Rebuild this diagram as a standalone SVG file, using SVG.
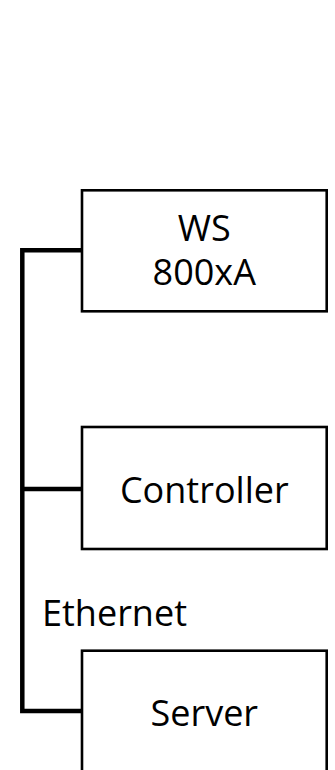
<svg xmlns="http://www.w3.org/2000/svg" width="335" height="770" viewBox="0 0 335 770">
<style>
.box{fill:#fff;stroke:#000;stroke-width:2.6}
.lbl{font-family:"Open Sans","DejaVu Sans",sans-serif;font-size:36px;fill:#000}
.c{text-anchor:middle}
.wire{fill:none;stroke:#000;stroke-width:4.5}
</style>
<rect width="335" height="770" fill="#fff"/>
<g id="connectors">
<path class="wire" d="M81 250.3 H22.3 V711 H81"/>
<path class="wire" d="M22.3 489 H81"/>
</g>
<g id="ws">
<rect class="box" x="82" y="190.3" width="244.7" height="121"/>
<text class="lbl c" x="204.3" y="241">WS</text>
<text class="lbl c" x="204.3" y="285">800xA</text>
</g>
<g id="controller">
<rect class="box" x="82" y="427" width="244.7" height="122"/>
<text class="lbl c" x="204.3" y="503.3">Controller</text>
</g>
<g id="server">
<rect class="box" x="82" y="650.7" width="244.7" height="130"/>
<text class="lbl c" x="204.3" y="726">Server</text>
</g>
<g id="ethernet">
<text class="lbl" x="42" y="626">Ethernet</text>
</g>
</svg>
